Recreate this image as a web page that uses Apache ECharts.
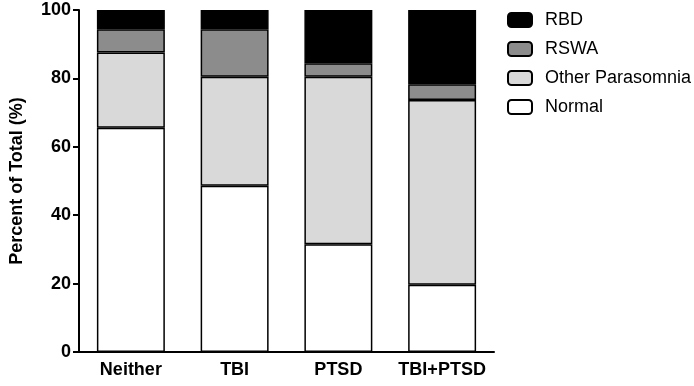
<!DOCTYPE html>
<html><head><meta charset="utf-8">
<script src="https://cdn.jsdelivr.net/npm/echarts@6/dist/echarts.min.js"></script>
<style>html,body{margin:0;padding:0;background:#fff}#c{width:694px;height:386px}</style>
</head><body><div id="c"></div>
<script>
const categories = ['Neither', 'TBI', 'PTSD', 'TBI+PTSD'];
const normal = [65.6, 48.6, 31.5, 19.7];
const otherParasomnia = [22.0, 31.9, 49.0, 54.0];
const rswa = [6.8, 13.9, 3.9, 4.6];
const rbd = [5.6, 5.6, 15.6, 21.7];
const yTicks = [0, 20, 40, 60, 80, 100];

const chart = echarts.init(document.getElementById('c'), null, {renderer: 'canvas'});
const font = 'Liberation Sans, Arial, sans-serif';
function s(name, data, color) {
  return {name, type: 'bar', stack: 'total', data, barCategoryGap: '34.5%',
    itemStyle: {color, borderColor: '#000', borderWidth: 1.5}};
}
chart.setOption({
  animation: false,
  grid: {left: 73, right: 200, top: 10, bottom: 34},
  legend: {
    orient: 'vertical', left: 507, top: 11, padding: 0, itemWidth: 24, itemHeight: 14, itemGap: 11,
    data: ['RBD', 'RSWA', 'Other Parasomnia', 'Normal'],
    textStyle: {fontFamily: font, fontSize: 18, color: '#000', padding: [0, 0, 0, 8]},
    itemStyle: {borderColor: '#000', borderWidth: 2}
  },
  xAxis: {
    type: 'category', data: categories,
    axisLine: {lineStyle: {color: '#000', width: 2}},
    axisTick: {alignWithLabel: true, length: 4, lineStyle: {color: '#000', width: 2}},
    axisLabel: {interval: 0, fontFamily: font, fontSize: 18, fontWeight: 'bold', color: '#000', margin: 9}
  },
  yAxis: {
    type: 'value', min: yTicks[0], max: yTicks[yTicks.length - 1], interval: 20,
    name: 'Percent of Total (%)', nameLocation: 'middle', nameGap: 53, nameRotate: 90,
    nameTextStyle: {fontFamily: font, fontSize: 18, fontWeight: 'bold', color: '#000'},
    axisLine: {show: true, lineStyle: {color: '#000', width: 2}},
    axisTick: {show: true, length: 6, lineStyle: {color: '#000', width: 2}},
    axisLabel: {fontFamily: font, fontSize: 18, fontWeight: 'bold', color: '#000', margin: 8},
    splitLine: {show: false}
  },
  series: [
    s('Normal', normal, '#ffffff'),
    s('Other Parasomnia', otherParasomnia, '#d9d9d9'),
    s('RSWA', rswa, '#8c8c8c'),
    s('RBD', rbd, '#000000')
  ]
});
</script></body></html>
